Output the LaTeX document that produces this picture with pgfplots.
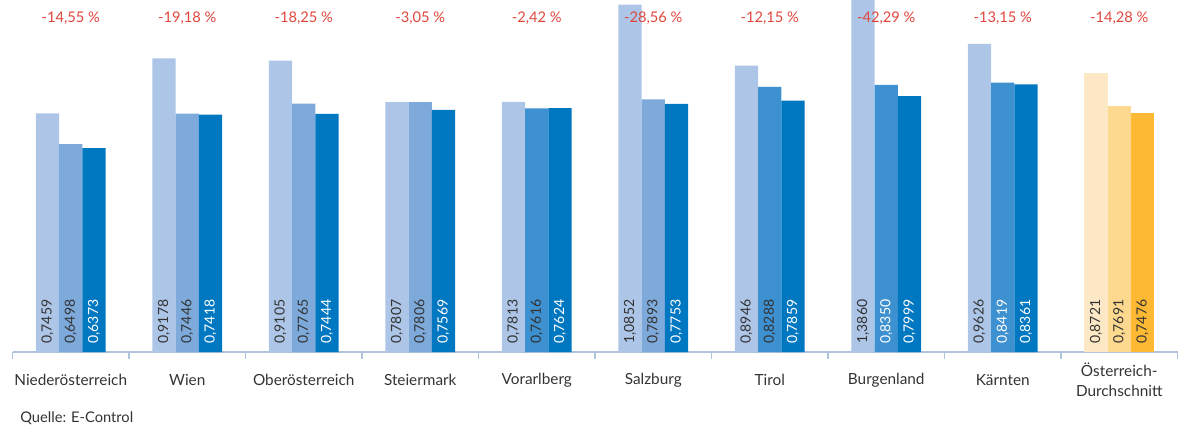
\documentclass[border=0pt]{standalone}
\usepackage{fontspec}
\setmainfont{Lato}
\usepackage{pgfplots}
\pgfplotsset{compat=1.18}

\definecolor{lb}{HTML}{ADC5E7}
\definecolor{mbA}{HTML}{7DAADB}
\definecolor{mbB}{HTML}{3D91D0}
\definecolor{db}{HTML}{0077C1}
\definecolor{lo}{HTML}{FDE8C5}
\definecolor{mo}{HTML}{FDD98F}
\definecolor{do}{HTML}{FDB934}
\definecolor{pct}{HTML}{E0463C}
\definecolor{txt}{HTML}{333333}
\definecolor{axl}{HTML}{AFC3DC}

% value label inside a bar: x position, text, colour
\newcommand{\val}[3]{\node[rotate=90, anchor=west, inner sep=0pt, text=#3,
  font=\fontsize{10.5}{11}\selectfont] at (axis cs:#1,0.026) {#2};}
\newcommand{\pct}[2]{\node[text=pct, font=\fontsize{11}{13}\selectfont]
  at (axis cs:#1,1.044) {#2};}

\begin{document}
\begin{tikzpicture}
\useasboundingbox (0,0) rectangle (885pt,322.5pt);
\begin{axis}[
  at={(9.375pt,58.5pt)}, anchor=south west,
  scale only axis, width=873.75pt, height=264pt,
  xmin=-0.5, xmax=9.5, ymin=0, ymax=1.1,
  hide y axis, axis x line*=bottom,
  axis line style={axl, line width=1pt},
  xtick={0,...,9}, major tick length=0pt,
  xticklabels={Niederösterreich, Wien, Oberösterreich, Steiermark, Vorarlberg,
    Salzburg, Tirol, Burgenland, Kärnten, {Österreich-\\Durchschnitt}},
  xticklabel style={anchor=center, yshift=-21pt, align=center, text=txt,
    font=\fontsize{11.5}{15}\selectfont},
  extra x ticks={-0.5,0.5,1.5,2.5,3.5,4.5,5.5,6.5,7.5,8.5,9.5},
  extra x tick labels={},
  extra x tick style={major tick length=5pt, tick align=outside,
    tick style={axl, line width=1pt}},
]
% erste Säule (hell)
\addplot[ybar, bar width=0.2, bar shift=-0.2, fill=lb, draw=none] coordinates {
  (0,0.7459) (1,0.9178) (2,0.9105) (3,0.7807) (4,0.7813)
  (5,1.0852) (6,0.8946) (7,1.3860) (8,0.9626)};
\addplot[ybar, bar width=0.2, bar shift=-0.2, fill=lo, draw=none] coordinates {(9,0.8721)};
% zweite Säule
\addplot[ybar, bar width=0.2, bar shift=0, fill=mbA, draw=none] coordinates {
  (0,0.6498) (1,0.7446) (2,0.7765) (3,0.7806) (5,0.7893)};
\addplot[ybar, bar width=0.2, bar shift=0, fill=mbB, draw=none] coordinates {
  (4,0.7616) (6,0.8288) (7,0.8350) (8,0.8419)};
\addplot[ybar, bar width=0.2, bar shift=0, fill=mo, draw=none] coordinates {(9,0.7691)};
% dritte Säule (dunkel)
\addplot[ybar, bar width=0.2, bar shift=0.2, fill=db, draw=none] coordinates {
  (0,0.6373) (1,0.7418) (2,0.7444) (3,0.7569) (4,0.7624)
  (5,0.7753) (6,0.7859) (7,0.7999) (8,0.8361)};
\addplot[ybar, bar width=0.2, bar shift=0.2, fill=do, draw=none] coordinates {(9,0.7476)};

\val{-0.2}{0,7459}{txt} \val{0}{0,6498}{txt} \val{0.2}{0,6373}{white}
\val{0.8}{0,9178}{txt} \val{1}{0,7446}{txt} \val{1.2}{0,7418}{white}
\val{1.8}{0,9105}{txt} \val{2}{0,7765}{txt} \val{2.2}{0,7444}{white}
\val{2.8}{0,7807}{txt} \val{3}{0,7806}{txt} \val{3.2}{0,7569}{white}
\val{3.8}{0,7813}{txt} \val{4}{0,7616}{txt} \val{4.2}{0,7624}{white}
\val{4.8}{1,0852}{txt} \val{5}{0,7893}{txt} \val{5.2}{0,7753}{white}
\val{5.8}{0,8946}{txt} \val{6}{0,8288}{txt} \val{6.2}{0,7859}{white}
\val{6.8}{1,3860}{txt} \val{7}{0,8350}{white} \val{7.2}{0,7999}{white}
\val{7.8}{0,9626}{txt} \val{8}{0,8419}{white} \val{8.2}{0,8361}{white}
\val{8.8}{0,8721}{txt} \val{9}{0,7691}{txt} \val{9.2}{0,7476}{txt}

\pct{0}{-14,55 \%} \pct{1}{-19,18 \%} \pct{2}{-18,25 \%} \pct{3}{-3,05 \%}
\pct{4}{-2,42 \%} \pct{5}{-28,56 \%} \pct{6}{-12,15 \%} \pct{7}{-42,29 \%}
\pct{8}{-13,15 \%} \pct{9}{-14,28 \%}
\end{axis}
\node[anchor=west, inner sep=0pt, text=txt, font=\fontsize{11}{13}\selectfont] at (15pt,9pt) {Quelle: E-Control};
\end{tikzpicture}
\end{document}
